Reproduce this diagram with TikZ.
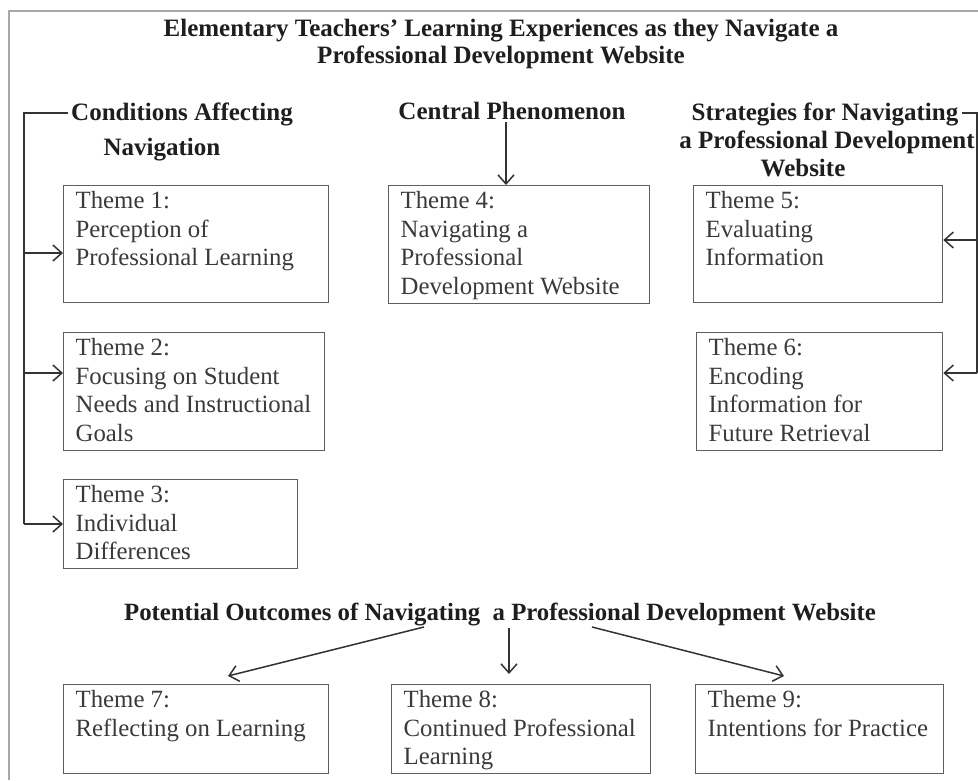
\documentclass[tikz,border=0pt]{standalone}
\usepackage{fontspec}
\setmainfont{Liberation Serif}
\usetikzlibrary{arrows.meta}
\definecolor{framegray}{HTML}{A8A8A8}
\definecolor{boxline}{HTML}{5E5E5E}
\definecolor{ink}{HTML}{1E1E1E}
\definecolor{bodyink}{HTML}{3A3A3A}
\definecolor{linkink}{HTML}{333333}

% fixed-size text block, content set from the top
\newcommand{\themetext}[3]{\begin{minipage}[c][#2][t]{#1}\raggedright #3\end{minipage}}

\begin{document}
\begin{tikzpicture}[x=1pt,y=-1pt,
  font=\fontsize{24.8}{28.5}\selectfont,
  thm/.style={draw=boxline, line width=1.3, inner xsep=12, inner ysep=6,
              anchor=north west, text=bodyink},
  hdr/.style={font=\bfseries\fontsize{25}{28}\selectfont, text=ink,
              inner sep=0, anchor=base},
  link/.style={draw=linkink, line width=1.5},
  arr/.style={link, -{Straight Barb[length=9,width=16,line width=1.5]}}]

\useasboundingbox (0,0) rectangle (978,780);

% outer frame (top and left sides only)
\draw[framegray, line width=1.6] (9,780) -- (9,11) -- (978,11);

% title
\node[hdr] (title1) at (501,36) {Elementary Teachers' Learning Experiences as they Navigate a};
\node[hdr] (title2) at (501,63) {Professional Development Website};

% column headings
\node[hdr] (cond1) at (182,120) {Conditions Affecting};
\node[hdr] (cond2) at (162,155) {Navigation};
\node[hdr] (central) at (512,119) {Central Phenomenon};
\node[hdr] (strat1) at (825,120) {Strategies for Navigating};
\node[hdr] (strat2) at (827,148) {a Professional Development};
\node[hdr] (strat3) at (803,176) {Website};
\node[hdr, font=\bfseries\fontsize{24.8}{28}\selectfont] (outcomes) at (500,620)
  {Potential Outcomes of Navigating\ \ a Professional Development Website};

% theme boxes
\node[thm] (t1) at (63,185) {\themetext{241pt}{105pt}{Theme 1:\\Perception of\\Professional Learning}};
\node[thm] (t2) at (63,332) {\themetext{237pt}{106pt}{Theme 2:\\Focusing on Student\\Needs and Instructional\\Goals}};
\node[thm] (t3) at (63,479) {\themetext{210pt}{77pt}{Theme 3:\\Individual\\Differences}};
\node[thm] (t4) at (388,185) {\themetext{237pt}{106pt}{Theme 4:\\Navigating a\\Professional\\Development Website}};
\node[thm] (t5) at (693,185) {\themetext{225pt}{105pt}{Theme 5:\\Evaluating\\Information}};
\node[thm] (t6) at (696,332) {\themetext{222pt}{106pt}{Theme 6:\\Encoding\\Information for\\Future Retrieval}};
\node[thm] (t7) at (63,684) {\themetext{241pt}{77pt}{Theme 7:\\Reflecting on Learning}};
\node[thm] (t8) at (391,684) {\themetext{235pt}{77pt}{Theme 8:\\Continued Professional\\Learning}};
\node[thm] (t9) at (695,684) {\themetext{224pt}{77pt}{Theme 9:\\Intentions for Practice}};

% left bracket: conditions feeding themes 1-3
\coordinate (lt) at (24,113);
\coordinate (l1) at (24,253);
\coordinate (l2) at (24,373);
\coordinate (l3) at (24,524);
\draw[link] ([xshift=-3]cond1.west |- lt) -- (lt) -- (l3);
\draw[arr] (l1) -- (l1 -| t1.west);
\draw[arr] (l2) -- (l2 -| t2.west);
\draw[arr] (l3) -- (l3 -| t3.west);

% right bracket: strategies feeding themes 5-6
\coordinate (rt) at (977,113);
\coordinate (r5) at (977,240);
\coordinate (r6) at (977,373);
\draw[link] ([xshift=3]strat1.east |- rt) -- (rt) -- (r6);
\draw[arr] (r5) -- (r5 -| t5.east);
\draw[arr] (r6) -- (r6 -| t6.east);

% central phenomenon
\coordinate (c0) at (506,122);
\draw[arr] (c0) -- (c0 |- t4.north);

% outcomes
\coordinate (o7) at (424,627);
\coordinate (o8) at (509,628);
\coordinate (o9) at (592,627);
\draw[arr] (o7) -- (228,676);
\draw[arr] (o8) -- (509,674);
\draw[arr] (o9) -- (784,676);
\end{tikzpicture}
\end{document}
